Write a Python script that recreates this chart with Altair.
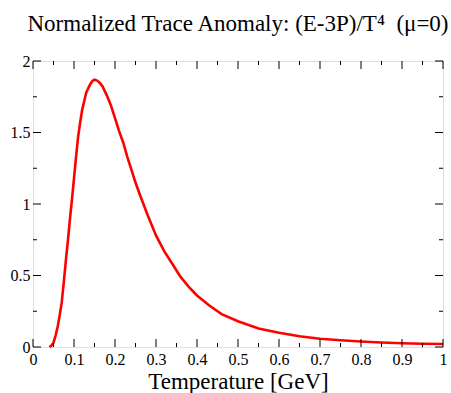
import altair as alt
import pandas as pd

temperature = [0.04, 0.045, 0.05, 0.055, 0.06, 0.065, 0.07, 0.075, 0.08, 0.085,
               0.09, 0.095, 0.10, 0.105, 0.11, 0.115, 0.12, 0.125, 0.13, 0.135,
               0.14, 0.145, 0.15, 0.155, 0.16, 0.165, 0.17, 0.18, 0.19, 0.20,
               0.21, 0.22, 0.23, 0.24, 0.25, 0.26, 0.28, 0.30, 0.32, 0.34,
               0.36, 0.38, 0.40, 0.43, 0.46, 0.50, 0.55, 0.60, 0.65, 0.70,
               0.75, 0.80, 0.85, 0.90, 0.95, 1.0]
trace_anomaly = [0.0, 0.01, 0.03, 0.08, 0.14, 0.22, 0.31, 0.45, 0.60, 0.74,
                 0.89, 1.03, 1.18, 1.33, 1.47, 1.57, 1.66, 1.72, 1.78, 1.81,
                 1.84, 1.86, 1.87, 1.865, 1.855, 1.84, 1.82, 1.76, 1.69, 1.60,
                 1.51, 1.43, 1.33, 1.24, 1.15, 1.07, 0.92, 0.78, 0.67, 0.58,
                 0.49, 0.42, 0.36, 0.29, 0.23, 0.18, 0.13, 0.10, 0.075, 0.058,
                 0.047, 0.038, 0.031, 0.026, 0.023, 0.021]

x_major = [0.0, 0.1, 0.2, 0.3, 0.4, 0.5, 0.6, 0.7, 0.8, 0.9, 1.0]
x_minor = [0.05, 0.15, 0.25, 0.35, 0.45, 0.55, 0.65, 0.75, 0.85, 0.95]
y_major = [0.0, 0.5, 1.0, 1.5, 2.0]
y_minor = [0.25, 0.75, 1.25, 1.75]

W, H = 410, 286
FONT = "Liberation Serif"
MAJ, MIN = 8, 4

xs = alt.Scale(domain=[0, 1], nice=False, zero=False)
ys = alt.Scale(domain=[0, 2], nice=False, zero=False)

x_axis = alt.Axis(
    title="Temperature [GeV]", values=x_major, format="~g", tickSize=0,
    domain=False, grid=False, labelFont=FONT, labelFontSize=16,
    labelColor="black", labelPadding=4, labelFlush=False,
    titleFont=FONT, titleFontSize=23, titleFontWeight="normal",
    titleColor="black", titlePadding=3)
y_axis = alt.Axis(
    title=None, values=y_major, format="~g", tickSize=0, domain=False,
    grid=False, labelFont=FONT, labelFontSize=16, labelColor="black",
    labelPadding=3, labelFlush=False)

df = pd.DataFrame({"T": temperature, "v": trace_anomaly})

line = alt.Chart(df).mark_line(color="#ff0000", strokeWidth=2.6).encode(
    x=alt.X("T:Q", scale=xs, axis=x_axis),
    y=alt.Y("v:Q", scale=ys, axis=y_axis),
)

xmaj = pd.DataFrame({"T": x_major})
xmin = pd.DataFrame({"T": x_minor})
ymaj = pd.DataFrame({"v": y_major})
ymin = pd.DataFrame({"v": y_minor})


def xticks(data, length):
    base = alt.Chart(data).mark_rule(color="black", strokeWidth=1)
    enc = alt.X("T:Q", scale=xs, axis=x_axis)
    bottom = base.encode(x=enc, y=alt.value(H), y2=alt.value(H - length))
    top = base.encode(x=enc, y=alt.value(0), y2=alt.value(length))
    return [bottom, top]


def yticks(data, length):
    base = alt.Chart(data).mark_rule(color="black", strokeWidth=1)
    enc = alt.Y("v:Q", scale=ys, axis=y_axis)
    left = base.encode(y=enc, x=alt.value(0), x2=alt.value(length))
    right = base.encode(y=enc, x=alt.value(W), x2=alt.value(W - length))
    return [left, right]


layers = [line] + xticks(xmaj, MAJ) + xticks(xmin, MIN) + yticks(ymaj, MAJ) + yticks(ymin, MIN)

chart = alt.layer(*layers).properties(
    width=W, height=H,
    autosize=alt.AutoSizeParams(type="none"),
    padding={"left": 33, "top": 61, "right": 8, "bottom": 46},
    title=alt.TitleParams(
        "Normalized Trace Anomaly: (E-3P)/T\u2074\u00a0 (\u03bc=0)",
        font=FONT, fontSize=23, fontWeight="normal", color="black",
        anchor="middle", offset=17),
).configure_view(stroke="black", strokeWidth=1.5).configure(background="white")

chart.save("out.html", embed_options={"renderer": "svg", "actions": False})
